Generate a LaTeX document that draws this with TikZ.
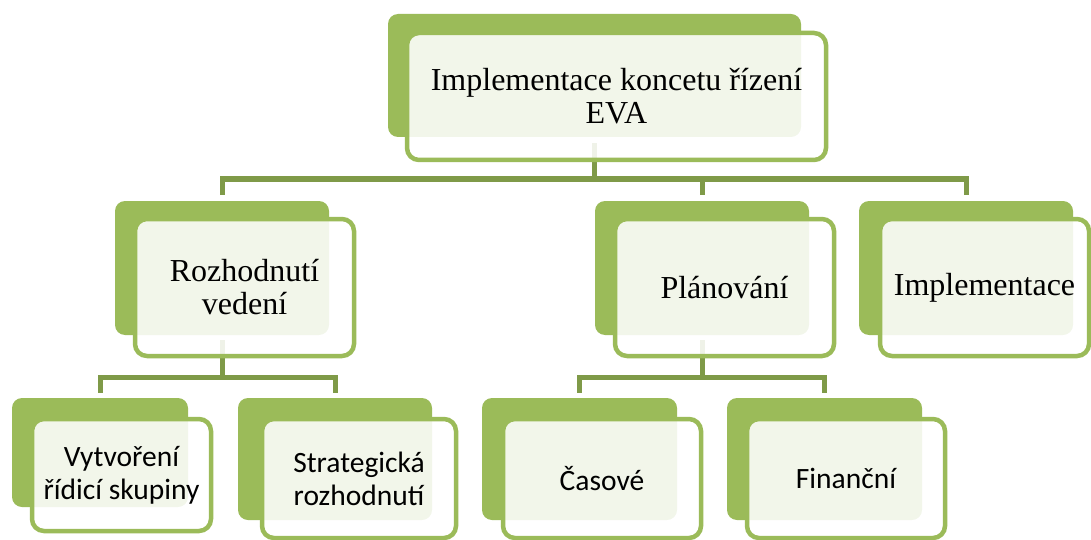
\documentclass[tikz,border=0pt]{standalone}
\usepackage{fontspec}
\setmainfont{Liberation Serif}
\newfontfamily\calibri{Carlito}
\usetikzlibrary{calc,backgrounds}
\definecolor{olive}{HTML}{9BBB59}
\definecolor{darkolive}{HTML}{7F9A48}

\begin{document}
\begin{tikzpicture}[x=1pt,y=-1pt,
    back/.style={fill=olive, rounded corners=10pt, inner sep=0pt},
    front/.style={draw=olive, line width=4.5pt, fill=white, fill opacity=0.88,
      text opacity=1, rounded corners=12pt, align=center, inner sep=0pt},
    big/.style={font=\fontsize{32}{33}\selectfont},
    small/.style={font=\calibri\fontsize{29.5}{33}\selectfont},
    conn/.style={draw=darkolive, line width=5pt}]
  \useasboundingbox (0,0) rectangle (1091,540);

  % top
  \node[back, minimum width=413pt, minimum height=123pt] (tb) at (594.5,75.5) {};
  \node[front, big, minimum width=419pt, minimum height=127pt] (t) at (616.5,96.5)
    {Implementace koncetu řízení\\EVA};

  % second row
  \node[back, minimum width=214pt, minimum height=134pt] (rb) at (222,268) {};
  \node[front, big, minimum width=219pt, minimum height=137pt] (r) at (244.5,287.5)
    {Rozhodnutí\\vedení};
  \node[back, minimum width=214pt, minimum height=134pt] (pb) at (702,268) {};
  \node[front, big, minimum width=219pt, minimum height=137pt] (p) at (724.5,287.5)
    {Plánování};
  \node[back, minimum width=214pt, minimum height=134pt] (ib) at (966,268) {};
  \node[front, big, minimum width=209pt, minimum height=137pt] (i) at (984.5,287.5)
    {Implementace};

  % third row
  \node[back, minimum width=176pt, minimum height=109pt] (vb) at (100,452.5) {};
  \node[front, small, minimum width=179pt, minimum height=112pt] (v) at (121.5,475)
    {Vytvoření\\řídicí skupiny};
  \node[back, minimum width=194pt, minimum height=122pt] (sb) at (335,459) {};
  \node[front, small, minimum width=194pt, minimum height=119pt] (s) at (359,478.5)
    {Strategická\\rozhodnutí};
  \node[back, minimum width=195pt, minimum height=122pt] (cb) at (579.5,459) {};
  \node[front, small, minimum width=198pt, minimum height=119pt] (c) at (602,478.5)
    {Časové};
  \node[back, minimum width=195pt, minimum height=122pt] (fb) at (824.5,459) {};
  \node[front, small, minimum width=198pt, minimum height=119pt] (f) at (846,478.5)
    {Finanční};

  \begin{scope}[on background layer]
    \coordinate (bus1) at (0,179);
    \coordinate (bus2) at (0,377);
    \draw[conn] ($(tb.south)+(0,6)$) -- (tb.south |- bus1);
    \draw[conn] ($(rb.north)+(0,-6)$) -- (rb.north |- bus1) -- (ib.north |- bus1)
      -- ($(ib.north)+(0,-6)$);
    \draw[conn] (pb.north |- bus1) -- ($(pb.north)+(0,-6)$);

    \draw[conn] ($(rb.south)+(0,5)$) -- (rb.south |- bus2);
    \draw[conn] ($(vb.north)+(0,-5)$) -- (vb.north |- bus2) -- (sb.north |- bus2)
      -- ($(sb.north)+(0,-5)$);
    \draw[conn] ($(pb.south)+(0,5)$) -- (pb.south |- bus2);
    \draw[conn] ($(cb.north)+(0,-5)$) -- (cb.north |- bus2) -- (fb.north |- bus2)
      -- ($(fb.north)+(0,-5)$);
  \end{scope}
\end{tikzpicture}
\end{document}
